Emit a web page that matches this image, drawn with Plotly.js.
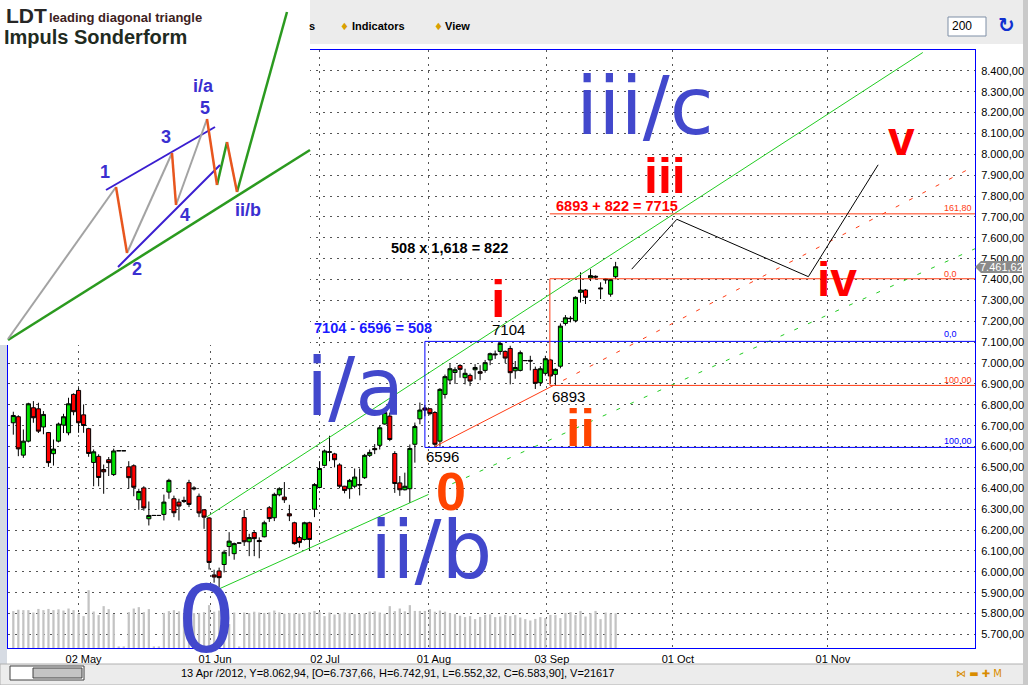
<!DOCTYPE html>
<html><head><meta charset="utf-8">
<script src="https://cdn.plot.ly/plotly-3.0.1.min.js"></script>
<style>html,body{margin:0;padding:0;background:#fff;overflow:hidden}#chart{width:1028px;height:685px}</style>
</head><body><div id="chart"></div>
<script>
const W = 1028, H = 685;
const PX = x => x / W, PY = y => 1 - y / H;

// ---------- price data (one entry per trading day, starting 13 Apr 2012) ----------
const open = [6714,6743,6559,6626,6786,6781,6694,6667,6566,6626,
6703,6666,6850,6869,6752,6686,6524,6553,6490,6537,
6466,6580,6580,6503,6508,6345,6402,6254,6270,6270,
6275,6382,6350,6334,6342,6427,6402,6362,6297,6258,
5985,6004,6035,6121,6087,6138,6260,6144,6188,6150,
6168,6307,6259,6369,6358,6278,6235,6164,6155,6235,
6300,6404,6510,6572,6565,6512,6410,6398,6410,6418,
6451,6558,6591,6606,6708,6746,6567,6426,6393,6398,
6611,6733,6785,6781,6763,6626,6850,6919,6955,6988,
6930,6941,6968,6959,6965,7015,7044,7056,7056,7070,
6963,6965,7012,7013,6970,6906,6951,7015,6946,6985,
7190,7215,7203,7339,7350,7408,7416,7360,7398,7330,
7414];
const high = [6767,6750,6682,6810,6818,6810,6770,6670,6634,6715,
6757,6834,6855,6882,6802,6690,6586,6563,6514,6550,
6590,6580,6580,6530,6515,6398,6410,6337,6270,6270,
6370,6446,6365,6350,6360,6441,6410,6375,6300,6262,
6010,6020,6105,6190,6140,6138,6295,6182,6195,6165,
6245,6315,6379,6405,6430,6321,6240,6172,6240,6240,
6425,6530,6586,6652,6570,6520,6412,6445,6495,6495,
6565,6586,6612,6700,6770,6763,6578,6459,6475,6610,
6715,6811,6800,6785,6770,6880,6945,6995,6980,6995,
6973,6950,6995,6990,7015,7050,7060,7104,7060,7083,
7010,7060,7012,7035,6983,6985,7035,7020,6975,7190,
7230,7225,7320,7435,7355,7450,7420,7387,7405,7402,
7485];
const low = [6657,6554,6546,6620,6714,6665,6659,6503,6509,6620,
6665,6654,6750,6666,6666,6551,6410,6410,6374,6459,
6459,6580,6580,6398,6362,6297,6293,6222,6270,6270,
6246,6350,6262,6246,6330,6310,6390,6262,6206,6011,
5948,5925,5997,6075,6058,6138,6124,6075,6075,6065,
6165,6239,6243,6362,6330,6243,6130,6116,6150,6100,
6262,6400,6505,6530,6500,6400,6376,6350,6400,6366,
6445,6550,6564,6586,6705,6626,6378,6364,6390,6330,
6523,6707,6745,6750,6596,6600,6830,6898,6900,6930,
6898,6890,6922,6918,6954,6990,7020,7040,7000,6898,
6925,6960,7012,6965,6876,6890,6940,6900,6893,6975,
7180,7195,7195,7290,7283,7393,7400,7307,7380,7318,
7402];
const close = [6749,6589,6626,6805,6738,6674,6754,6523,6588,6708,
6743,6805,6767,6714,6701,6567,6575,6452,6479,6523,
6579,6580,6580,6451,6405,6385,6306,6270,6270,6270,
6334,6438,6283,6315,6338,6323,6398,6282,6262,6045,
5975,5972,6094,6147,6135,6138,6144,6164,6159,6145,
6235,6255,6371,6398,6345,6268,6135,6140,6235,6155,
6418,6495,6579,6575,6537,6410,6390,6438,6454,6416,
6558,6572,6585,6690,6763,6634,6423,6393,6410,6591,
6696,6775,6775,6758,6611,6874,6935,6973,6968,6970,
6951,6914,6979,6951,7002,7045,7040,7094,7024,6954,
6979,7050,7012,7010,6903,6973,7021,6938,6970,7177,
7217,7213,7315,7350,7315,7419,7412,7356,7402,7400,
7461.62];
const volume = [18500,19200,19000,19000,17800,19600,19000,19600,19000,19400,
18800,19800,19000,17000,16000,29000,18300,16500,21000,19500,
17000,800,800,18000,19800,20500,18000,19500,800,800,
17600,18500,19000,18400,17300,17800,17500,17600,18000,21500,
18200,18800,16800,12000,17800,800,17800,17500,18200,17800,
17600,17900,18800,17900,17200,17600,17300,17300,17600,18000,
18600,18000,16000,17800,16800,17200,17900,17500,17000,17000,
17400,18300,18400,17800,17200,21000,18500,19800,18400,21500,
18600,18600,18600,19500,18200,18800,18200,17500,17000,16200,
15500,16000,14500,15600,16600,16900,15500,15800,16600,16000,
16500,15300,14500,13800,14600,15500,15000,16600,16500,15000,
17600,18000,16500,18600,15800,17500,18600,14500,17800,17300,
17400];
const dayIndex = open.map((_, i) => i);

// axis ticks (positions in trading-day index)
const dateTickIdx = [13, 39.2, 61.1, 82.8, 106.3, 131.4, 162.3];
const dateTickText = ['02 May', '01 Jun', '02 Jul', '01 Aug', '03 Sep', '01 Oct', '01 Nov'];
const priceTicks = [];
for (let v = 5700; v <= 8400; v += 100) priceTicks.push(v);
const lastPrice = 7461.62;

// analyst drawings (day index, price)
const upperChannelX = [38.6, 181.2], upperChannelY = [6264, 8488];
const lowerChannelX = [40.8, 82.0], lowerChannelY = [5916, 6363];
const lowerExtX = [82.0, 191.6], lowerExtY = [6363, 7548];
const redChannelX = [84.0, 106.9], redChannelY = [6600, 6884];
const redExtX = [106.9, 191.6], redExtY = [6884, 7945];
const projX = [123.2, 132.2, 158.4, 172.3], projY = [7450, 7689, 7414, 7950];
const blueFib = {start: 82.0, top: 7104, bottom: 6596};
const redFib = {start: 106.9, top: 7404, bottom: 6893, ext: 7715};
const X_MAX = 191.6;

// LDT schematic inset (inset pixel coordinates)
const ldtGray = [[[8,339],[116,187]], [[127,253],[172,153]], [[176,205],[207,119]]];
const ldtOrange = [[[116,187],[127,253]], [[172,153],[176,205]], [[207,119],[217,185]], [[227,142],[237,192]]];
const ldtGreen = [[[217,185],[227,142]], [[237,192],[287,12]], [[8,340],[310,150]]];
const ldtBlue = [[[106,190],[215,127]], [[118,267],[220,165]]];

// ---------- traces ----------
const traces = [];
traces.push({type:'candlestick', x: dayIndex, open, high, low, close,
  increasing:{line:{color:'#000', width:1}, fillcolor:'#00e000'},
  decreasing:{line:{color:'#000', width:1}, fillcolor:'#ff0000'},
  whiskerwidth:0, hoverinfo:'skip'});
function ln(x, y, color, width, dash) {
  traces.push({type:'scatter', mode:'lines', x, y, line:{color, width, dash: dash || 'solid'}, hoverinfo:'skip'});
}
ln(upperChannelX, upperChannelY, '#22cc22', 1);
ln(lowerChannelX, lowerChannelY, '#22cc22', 1);
ln(lowerExtX, lowerExtY, '#22cc22', 1, '4px,11px');
ln(redChannelX, redChannelY, '#ff3c14', 1);
ln(redExtX, redExtY, '#ff3c14', 1, '4px,11px');
// fib boxes
ln([blueFib.start, blueFib.start], [blueFib.bottom, blueFib.top], '#0000ff', 1);
ln([blueFib.start, X_MAX], [blueFib.top, blueFib.top], '#0000ff', 1);
ln([blueFib.start, X_MAX], [blueFib.bottom, blueFib.bottom], '#0000ff', 1);
ln([redFib.start, redFib.start], [redFib.bottom, redFib.top], '#ff3c14', 1);
ln([redFib.start, X_MAX], [redFib.top, redFib.top], '#ff3c14', 1);
ln([redFib.start, X_MAX], [redFib.bottom, redFib.bottom], '#ff3c14', 1);
ln([redFib.start, X_MAX], [redFib.ext, redFib.ext], '#ff3c14', 1);
ln(projX, projY, '#000', 1);
traces.push({type:'bar', x: dayIndex, y: volume, yaxis:'y2', width:0.45,
  marker:{color:'#c3c3c3', line:{width:0}}, hoverinfo:'skip'});

// ---------- shapes ----------
const shapes = [];
function rect(x0,y0,x1,y1,fill,line,layer){
  shapes.push({type:'rect', xref:'paper', yref:'paper', x0:PX(x0), x1:PX(x1), y0:PY(y0), y1:PY(y1),
    fillcolor:fill, line: line || {width:0}, layer: layer || 'below'});
}
rect(0,0,1028,44,'#ececec');
rect(0,345,7,664,'#d6dbe3');
rect(0,664,1028,685,'#ececec',{color:'#b0b0b0',width:1});
rect(1023,0,1028,685,'#c9c9c9');
rect(948,17,986,36,'#ffffff',{color:'#7f8fa6',width:1});
rect(10,666,84,680,'#ffffff',{color:'#404040',width:1});
rect(33,668,82,678,'#c4c4c4',{color:'#404040',width:1});
// inset
rect(0,0,310,345,'#ffffff',{width:0},'above');
function seg(list, color, width){
  list.forEach(s => shapes.push({type:'line', xref:'paper', yref:'paper', layer:'above',
    x0:PX(s[0][0]), y0:PY(s[0][1]), x1:PX(s[1][0]), y1:PY(s[1][1]), line:{color, width}}));
}
seg(ldtGreen, '#2b9a1f', 2.5);
seg(ldtBlue, '#3a1ed0', 2);
seg(ldtGray, '#a3a3a3', 2);
seg(ldtOrange, '#e8561e', 2.5);
// last price marker
shapes.push({type:'path', xref:'paper', yref:'paper', layer:'above',
  path:`M ${PX(975)} ${PY(267)} L ${PX(981)} ${PY(261)} L ${PX(1022)} ${PY(261)} L ${PX(1022)} ${PY(273)} L ${PX(981)} ${PY(273)} Z`,
  fillcolor:'#8a8a8a', line:{width:0}});

// ---------- annotations ----------
const ann = [];
function T(text, x, y, size, color, o) {
  o = o || {};
  ann.push({text, xref:'paper', yref:'paper', x:PX(x), y:PY(y), showarrow:false,
    xanchor:o.xa || 'left', yanchor:o.ya || 'top', borderpad:0,
    font:{family:o.fam || 'Liberation Sans, Arial, sans-serif', size, color, weight: o.w || 'normal'}});
}
const BIG = '#4248cc', BF = 'DejaVu Sans, sans-serif';
T('iii/c', 575, 59, 80, BIG, {fam:BF});
T('i/a', 305, 340, 80, BIG, {fam:BF});
T('ii/b', 369, 503, 80, BIG, {fam:BF});
T('0', 176, 566, 92, BIG, {fam:BF});
T('i', 490, 269, 52, '#ff0000', {w:'bold'});
T('iii', 643, 147, 50, '#ff0000', {w:'bold'});
T('v', 887, 111, 48, '#ff0000', {w:'bold'});
T('iv', 816, 252, 48, '#ff0000', {w:'bold'});
T('ii', 565, 398, 52, '#ff4400', {w:'bold'});
T('0', 435, 460, 54, '#ff4400', {w:'bold'});
T('7104 - 6596 = 508', 313, 319, 14.5, '#1a1aff', {w:'bold'});
T('508 x 1,618 = 822', 390, 239, 14.5, '#000', {w:'bold'});
T('6893 + 822 = 7715', 555, 197, 14.5, '#ff0000', {w:'bold'});
T('7104', 491, 320, 15, '#000');
T('6596', 425, 447, 15, '#000');
T('6893', 551, 387, 15, '#000');
T('161,80', 943, 202, 9, '#ff3c14');
T('0,0', 943, 268, 9, '#ff3c14');
T('100,00', 943, 374, 9, '#ff3c14');
T('0,0', 943, 328, 9, '#0000ff');
T('100,00', 943, 435, 9, '#0000ff');
T('7.461,62', 1001, 267, 11, '#ffffff', {xa:'center', ya:'middle'});
// inset texts
T('LDT', 5, 3, 21, '#262626', {w:'bold'});
T('leading diagonal triangle', 48, 9, 13, '#3d2222', {w:'bold'});
T('Impuls Sonderform', 3, 25, 20, '#1f2b1f', {w:'bold'});
const WV = '#3a2fd0';
[['1',105,172],['2',137,269],['3',166,137],['4',185,215],['5',205,108],['i/a',203,86],['ii/b',248,210]]
  .forEach(l => T(l[0], l[1], l[2], 18, WV, {w:'bold', xa:'center', ya:'middle'}));
// toolbar & status
T('s', 308, 26, 11, '#000', {w:'bold', ya:'middle'});
T('♦', 344, 26, 10, '#d9a000', {xa:'center', ya:'middle', fam:'DejaVu Sans'});
T('Indicators', 351, 26, 11, '#000', {w:'bold', ya:'middle'});
T('♦', 438, 26, 10, '#d9a000', {xa:'center', ya:'middle', fam:'DejaVu Sans'});
T('View', 444, 26, 11, '#000', {w:'bold', ya:'middle'});
T('200', 951, 26, 12, '#000', {ya:'middle'});
T('↻', 1006, 25, 20, '#1030d0', {w:'bold', xa:'center', ya:'middle', fam:'DejaVu Sans'});
T('13 Apr /2012, Y=8.062,94, [O=6.737,66, H=6.742,91, L=6.552,32, C=6.583,90], V=21617', 180, 673, 11, '#000', {ya:'middle'});
T('⋈ ▬ ✚ M', 955, 673, 10, '#d98c00', {ya:'middle', fam:'DejaVu Sans'});

const layout = {
  width:W, height:H, margin:{l:0, r:0, t:0, b:0},
  paper_bgcolor:'#ffffff', plot_bgcolor:'#ffffff', showlegend:false, hovermode:false,
  separators:',.', boxgap:0.12, boxgroupgap:0.08,
  xaxis:{domain:[PX(8), PX(975)], range:[-1.06, X_MAX], tickmode:'array', tickvals:dateTickIdx, ticktext:dateTickText,
    ticks:'', showgrid:true, gridcolor:'#555', griddash:'2px,5px', gridwidth:1, zeroline:false,
    showline:true, linecolor:'#0000ff', linewidth:1, mirror:true, rangeslider:{visible:false},
    tickfont:{family:'Liberation Sans, Arial', size:11, color:'#000'}, ticklabelshift:5, ticklabelstandoff:1},
  yaxis:{domain:[PY(648), PY(50)], range:[5635, 8500], side:'right', tickmode:'array', tickvals:priceTicks,
    tickformat:',.2f', ticks:'', showgrid:true, gridcolor:'#555', griddash:'2px,5px', gridwidth:1, zeroline:false,
    showline:true, linecolor:'#0000ff', linewidth:1, mirror:true,
    tickfont:{family:'Liberation Sans, Arial', size:11, color:'#000'}, ticklabelstandoff:3},
  yaxis2:{overlaying:'y', range:[0, 300000], visible:false, showgrid:false, zeroline:false},
  shapes, annotations: ann
};
Plotly.newPlot('chart', traces, layout, {staticPlot:true, displayModeBar:false});
</script></body></html>
